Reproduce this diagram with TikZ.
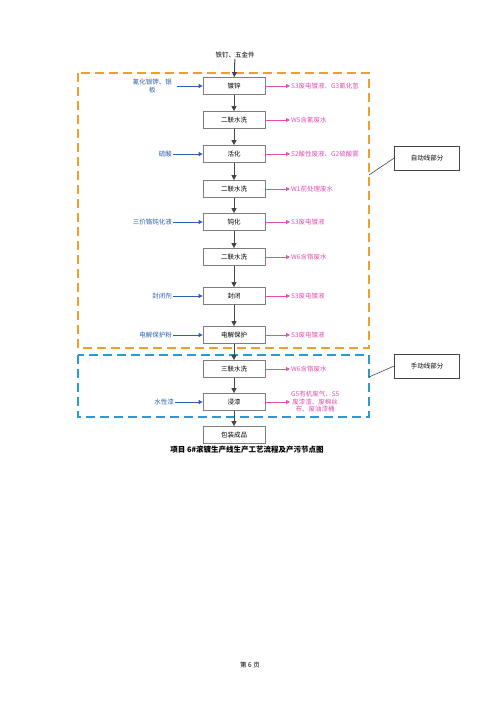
\documentclass[tikz,border=0pt]{standalone}
\usepackage{fontspec}
\setmainfont{Noto Sans CJK SC}
\usetikzlibrary{arrows.meta}
\definecolor{inblue}{RGB}{45,95,175}
\definecolor{outpink}{RGB}{225,80,175}
\definecolor{dorange}{RGB}{240,160,40}
\definecolor{dcyan}{RGB}{40,155,210}
\definecolor{flowgray}{RGB}{70,70,70}
\tikzset{
  stepbox/.style={draw=flowgray!70, line width=0.7pt, fill=white, minimum width=62pt, minimum height=17pt, inner sep=0pt, font=\fontsize{6.5}{7}\selectfont},
  inlab/.style={anchor=east, text=inblue, font=\fontsize{6.5}{7.5}\selectfont, inner sep=1pt},
  outlab/.style={anchor=west, text=outpink, font=\fontsize{6.5}{7.5}\selectfont, inner sep=1pt},
  flow/.style={draw=flowgray, line width=1pt, -{Triangle[length=5pt,width=5pt]}},
  inarr/.style={draw=inblue, line width=0.8pt, -{Triangle[length=4pt,width=4pt]}},
  outarr/.style={draw=outpink, line width=0.8pt, -{Triangle[length=4pt,width=4pt]}},
  callout/.style={draw=flowgray, line width=0.6pt, minimum width=65pt, minimum height=24pt, inner sep=0pt, font=\fontsize{6.5}{7}\selectfont}
}
\begin{document}
\begin{tikzpicture}[x=1pt,y=-1pt]
\useasboundingbox (0,0) rectangle (500,707);
% dashed regions
\draw[dorange, line width=1.3pt, dash pattern=on 9pt off 5pt] (78,73) rectangle (369,348);
\draw[dcyan, line width=1.3pt, dash pattern=on 9pt off 5pt] (78,355) rectangle (369,417);
% top
\node[font=\fontsize{6.5}{7}\selectfont, inner sep=1pt] (top) at (235,55) {铁钉、五金件};
% steps
\node[stepbox] (s1) at (234,86) {镀锌};
\node[stepbox] (s2) at (234,120) {二联水洗};
\node[stepbox] (s3) at (234,154) {活化};
\node[stepbox] (s4) at (234,189) {二联水洗};
\node[stepbox] (s5) at (234,222) {钝化};
\node[stepbox] (s6) at (234,257) {二联水洗};
\node[stepbox] (s7) at (234,296) {封闭};
\node[stepbox] (s8) at (234,335) {电解保护};
\node[stepbox] (s9) at (234,369) {三联水洗};
\node[stepbox] (s10) at (234,402) {浸漆};
\node[stepbox] (s11) at (234,435) {包装成品};
\foreach \a/\b in {top/s1,s1/s2,s2/s3,s3/s4,s4/s5,s5/s6,s6/s7,s7/s8,s8/s9,s9/s10,s10/s11}
  \draw[flow] (\a) -- (\b);
% inputs
\node[inlab, align=center] (i1) at (173,86) {氰化银钾、银\\板};
\node[inlab] (i3) at (173,154) {硫酸};
\node[inlab] (i5) at (173,222) {三价铬钝化液};
\node[inlab] (i7) at (173,296) {封闭剂};
\node[inlab] (i8) at (173,335) {电解保护粉};
\node[inlab] (i10) at (175,402) {水性漆};
\coordinate (c1) at (177,86);
\draw[inarr] (c1) -- (s1.west);
\foreach \i in {3,5,7,8} \draw[inarr] (i\i.east) -- (s\i.west);
\draw[inarr] (i10.east) -- (s10.west);
% outputs
\node[outlab] (o1) at (290,86) {S3废电镀液、G3氰化氢};
\node[outlab] (o2) at (290,120) {W5含氰废水};
\node[outlab] (o3) at (290,154) {S2酸性废液、G2硫酸雾};
\node[outlab] (o4) at (290,189) {W1前处理废水};
\node[outlab] (o5) at (290,222) {S3废电镀液};
\node[outlab] (o6) at (290,257) {W6含铬废水};
\node[outlab] (o7) at (290,296) {S3废电镀液};
\node[outlab] (o8) at (290,335) {S3废电镀液};
\node[outlab] (o9) at (290,369) {W6含铬废水};
\node[outlab, anchor=west, align=center] (o10) at (290,402) {G5有机废气、S5\\废漆渣、废棉丝\\布、废油漆桶};
\foreach \i in {1,...,10} \draw[outarr] (s\i.east) -- (o\i.west);
% callouts
\node[callout] (ca) at (427,158) {自动线部分};
\node[callout] (cb) at (427,366) {手动线部分};
\coordinate (pa) at (369,175);
\coordinate (pb) at (369,377);
\draw[flowgray, line width=0.6pt] (pa) -- (ca.west);
\draw[flowgray, line width=0.6pt] (pb) -- (cb.west);
% caption
\node[font=\bfseries\fontsize{7.5}{8}\selectfont] (cap) at (247,450) {项目 6\#滚镀生产线生产工艺流程及产污节点图};
\node[font=\fontsize{6.5}{7}\selectfont] (pg) at (250,665) {第 6 页};
\end{tikzpicture}
\end{document}
